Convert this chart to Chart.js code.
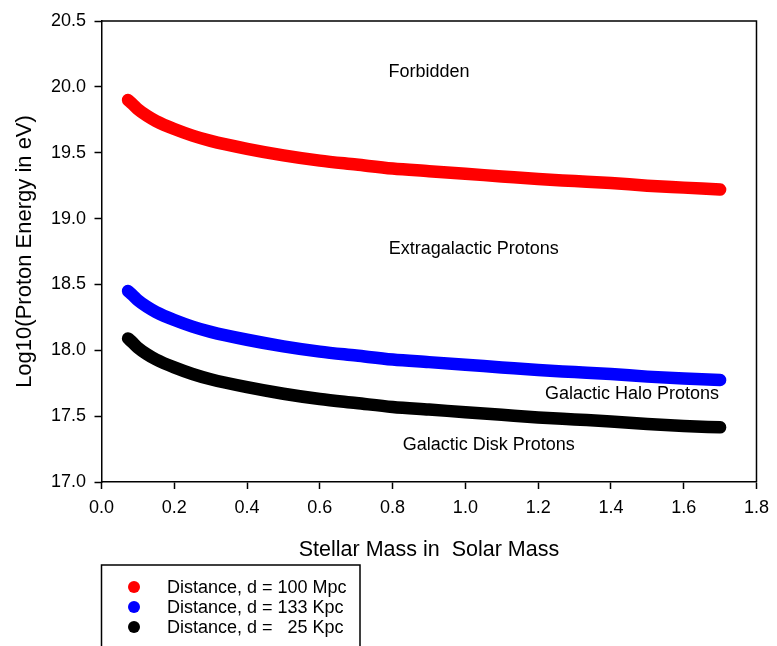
<!DOCTYPE html>
<html><head><meta charset="utf-8">
<script src="https://cdn.jsdelivr.net/npm/chart.js@4.4.1/dist/chart.umd.min.js"></script>
<style>html,body{margin:0;padding:0;background:#fff}#wrap{width:777px;height:646px;position:relative}</style>
</head><body><div id="wrap"><canvas id="c"></canvas></div>
<script>
// ---- data ----
const mass = [0.073,0.085,0.1,0.125,0.15,0.2,0.25,0.3,0.4,0.5,0.6,0.7,0.8,0.9,1.0,1.1,1.2,1.3,1.4,1.5,1.6,1.7];
const energy100Mpc = [19.90,19.87,19.83,19.78,19.74,19.68,19.63,19.59,19.53,19.48,19.44,19.41,19.38,19.36,19.34,19.32,19.30,19.285,19.27,19.25,19.235,19.22];
const energy133Kpc = [18.45,18.42,18.38,18.33,18.29,18.23,18.18,18.14,18.08,18.03,17.99,17.96,17.93,17.91,17.89,17.87,17.85,17.835,17.82,17.80,17.785,17.775];
const energy25Kpc  = [18.09,18.06,18.02,17.97,17.93,17.87,17.82,17.78,17.72,17.67,17.63,17.60,17.57,17.55,17.53,17.51,17.49,17.475,17.46,17.44,17.425,17.415];
const seriesLabels = ['Distance, d = 100 Mpc','Distance, d = 133 Kpc','Distance, d =   25 Kpc'];
const xTicks = [0.0,0.2,0.4,0.6,0.8,1.0,1.2,1.4,1.6,1.8];
const yTicks = [17.0,17.5,18.0,18.5,19.0,19.5,20.0,20.5];
const regionLabels = ['Forbidden','Extragalactic Protons','Galactic Halo Protons','Galactic Disk Protons'];
const regionAnchors = [[0.90,20.11],[1.023,18.77],[1.458,17.67],[1.064,17.28]];

const FONT = "'Liberation Sans', Arial, Helvetica, sans-serif";
const colors = ['#ff0000','#0000ff','#000000'];
const seriesValues = [energy100Mpc, energy133Kpc, energy25Kpc];

const frame = {
  id:'frame',
  afterDraw(chart){
    const {ctx, chartArea:a} = chart;
    ctx.save();
    ctx.strokeStyle='#000'; ctx.lineWidth=1.5;
    ctx.beginPath();
    ctx.moveTo(a.left,a.top); ctx.lineTo(a.right,a.top); ctx.lineTo(a.right,a.bottom);
    ctx.stroke();
    ctx.restore();
  }
};
const regions = {
  id:'regions',
  afterDraw(chart){
    const {ctx, scales:{x,y}} = chart;
    ctx.save();
    ctx.fillStyle='#000'; ctx.font='18px '+FONT;
    ctx.textAlign='center'; ctx.textBaseline='middle';
    regionLabels.forEach((t,i)=>{
      ctx.fillText(t, x.getPixelForValue(regionAnchors[i][0]), y.getPixelForValue(regionAnchors[i][1]));
    });
    ctx.restore();
  }
};
const boxLegend = {
  id:'boxLegend',
  afterDraw(chart){
    const {ctx} = chart;
    const left=101.5, right=360, top=565;
    ctx.save();
    ctx.strokeStyle='#000'; ctx.lineWidth=1.5;
    ctx.beginPath();
    ctx.moveTo(left,670); ctx.lineTo(left,top); ctx.lineTo(right,top); ctx.lineTo(right,670);
    ctx.stroke();
    ctx.font='18px '+FONT; ctx.textBaseline='middle'; ctx.textAlign='left';
    chart.data.datasets.forEach((ds,i)=>{
      const cy = 587 + i*20;
      ctx.fillStyle = ds.borderColor;
      ctx.beginPath(); ctx.arc(134, cy, 6, 0, Math.PI*2); ctx.fill();
      ctx.fillStyle='#000';
      ctx.fillText(ds.label, 167, cy+1);
    });
    ctx.restore();
  }
};

new Chart(document.getElementById('c'), {
  type:'scatter',
  data:{
    datasets: seriesValues.map((vals,i)=>({
      label: seriesLabels[i],
      data: mass.map((m,j)=>({x:m, y:vals[j]})),
      showLine:true,
      borderColor: colors[i],
      backgroundColor: colors[i],
      borderWidth: 12.5,
      borderCapStyle:'round',
      borderJoinStyle:'round',
      pointRadius:0,
      pointHoverRadius:0,
      cubicInterpolationMode:'monotone'
    }))
  },
  options:{
    responsive:true, maintainAspectRatio:false, animation:false,
    layout:{autoPadding:false, padding:{top:21,right:18,left:0,bottom:0}},
    plugins:{legend:{display:false}, tooltip:{enabled:false}},
    scales:{
      x:{
        type:'linear', min:0, max:1.8,
        afterBuildTicks(s){ s.ticks = xTicks.map(v=>({value:v})); },
        afterFit(s){ s.height = 164; },
        grid:{drawOnChartArea:false, drawTicks:true, tickLength:7, tickColor:'#000', tickWidth:1.5},
        border:{display:true, color:'#000', width:1.5},
        ticks:{color:'#000', padding:8, font:{family:FONT, size:18}, callback:v=>Number(v).toFixed(1), maxRotation:0, autoSkip:false},
        title:{display:true, text:'Stellar Mass in  Solar Mass', color:'#000', font:{family:FONT, size:21.5}, padding:{top:0,bottom:83}}
      },
      y:{
        type:'linear', min:17, max:20.5,
        afterBuildTicks(s){ s.ticks = yTicks.map(v=>({value:v})); },
        afterFit(s){ s.width = 101.5; },
        grid:{drawOnChartArea:false, drawTicks:true, tickLength:7, tickColor:'#000', tickWidth:1.5},
        border:{display:true, color:'#000', width:1.5},
        ticks:{color:'#000', padding:8.5, font:{family:FONT, size:18}, callback:v=>Number(v).toFixed(1), autoSkip:false},
        title:{display:true, text:'Log10(Proton Energy in eV)', color:'#000', font:{family:FONT, size:22}, padding:{top:12,bottom:0}}
      }
    }
  },
  plugins:[frame, regions, boxLegend]
});
</script></body></html>
